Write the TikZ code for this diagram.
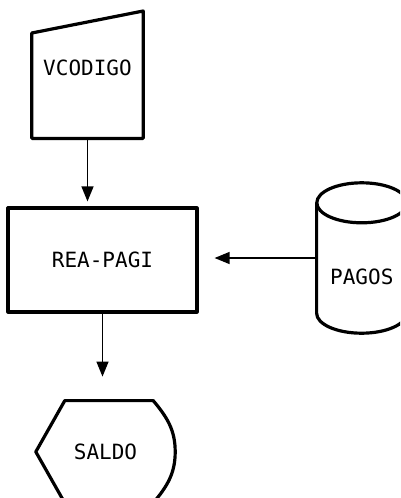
\documentclass[tikz,border=0pt]{standalone}
\usepackage{fontspec}
\newfontfamily\dotfont{DejaVu Sans Mono}
\usepackage{tikz}
\usetikzlibrary{arrows.meta,positioning}

\begin{document}
\begin{tikzpicture}[
				x=1pt, y=1pt,
				textbox/.style={inner sep=0pt, align=center, font=\dotfont\fontsize{21}{25}\selectfont},
				outline/.style={line width=3.2pt, line join=round},
				procbox/.style={textbox, draw, outline, minimum width=189pt, minimum height=104pt},
				inbox/.style={textbox, minimum width=111pt, minimum height=127pt, text depth=14pt},
				dispbox/.style={textbox, minimum width=139pt, minimum height=102pt},
				diskbox/.style={textbox, minimum width=90pt, minimum height=150pt, text height=54pt},
				arr/.style={-{Triangle[length=15pt, width=12pt]}, line width=1.3pt}	]
				\useasboundingbox (0,0) rectangle (400,-498);
				\clip (0,0) rectangle (400,-498);
				\node[procbox] (rea) at (102.5,-260) {REA-PAGI};
				\node[inbox, above=68pt of rea, xshift=-15pt] (vcod) {VCODIGO};
				\node[diskbox, right=118pt of rea, yshift=2pt] (pagos) {PAGOS};
				\node[dispbox, below=87pt of rea, xshift=3pt] (saldo) {SALDO};
				
				\draw[outline] (vcod.south west) -- (vcod.south east) -- (vcod.north east) -- ([yshift=-22pt]vcod.north west) -- cycle;
				\draw[outline] ([yshift=-20pt]pagos.north west) -- ([yshift=20pt]pagos.south west) arc[start angle=180, end angle=360, x radius=45pt, y radius=20pt] -- ([yshift=-20pt]pagos.north east);
				\draw[outline] ([yshift=-20pt]pagos.north) ellipse[x radius=45pt, y radius=20pt];
				\draw[outline] (saldo.west) -- ([xshift=29pt]saldo.north west) -- ([xshift=-22pt]saldo.north east) to[out=-50,in=90] (saldo.east) to[out=-90,in=50] ([xshift=-22pt]saldo.south east) -- ([xshift=29pt]saldo.south west) -- cycle;
				
				\draw[arr, shorten >=5pt] (vcod.south) -- (vcod.south |- rea.north);
				\draw[arr, shorten >=16pt] (pagos.west) -- (rea.east |- pagos.west);
				\draw[arr, shorten >=24pt] (rea.south) -- (rea.south |- saldo.north);
			\end{tikzpicture}
\end{document}
